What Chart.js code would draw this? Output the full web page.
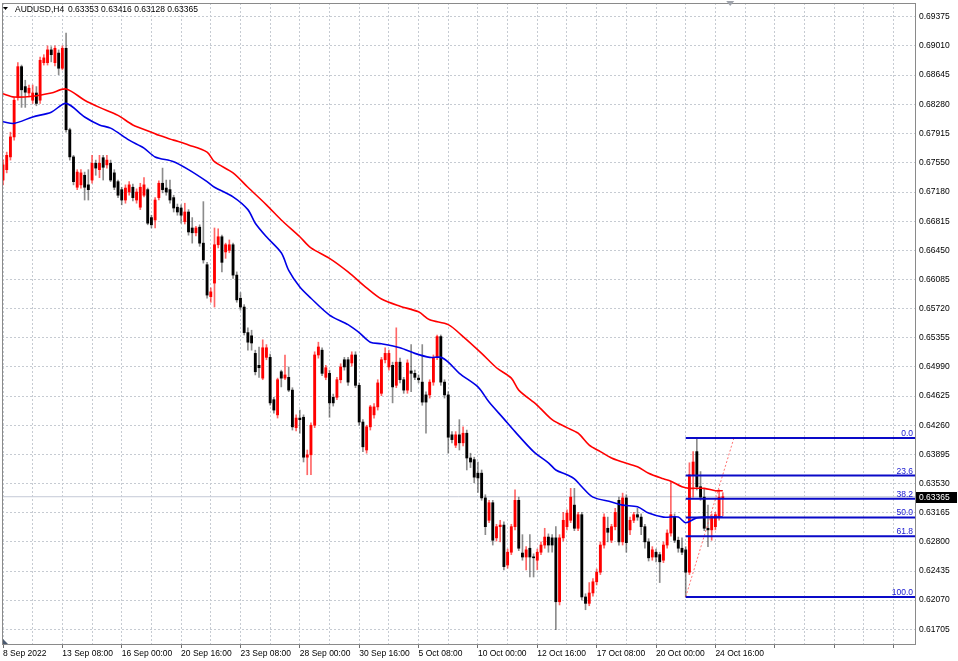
<!DOCTYPE html>
<html>
<head>
<meta charset="utf-8">
<script src="https://cdn.jsdelivr.net/npm/chart.js@4.4.0/dist/chart.umd.min.js"></script>
<style>
  html, body { margin: 0; padding: 0; background: #fff; }
  #wrap { width: 958px; height: 661px; }
</style>
</head>
<body>
<div id="wrap"><canvas id="chart" width="958" height="661"></canvas></div>
<script>
const symbolTitle = "AUDUSD,H4";

// one label every 16 H4 bars, starting at bar 0
const xLabels = ["8 Sep 2022", "13 Sep 08:00", "16 Sep 00:00", "20 Sep 16:00", "23 Sep 08:00",
  "28 Sep 00:00", "30 Sep 16:00", "5 Oct 08:00", "10 Oct 00:00", "12 Oct 16:00",
  "17 Oct 08:00", "20 Oct 00:00", "24 Oct 16:00"];

const yTicks = [0.69375, 0.69010, 0.68645, 0.68280, 0.67915, 0.67550, 0.67180, 0.66815,
  0.66450, 0.66085, 0.65720, 0.65355, 0.64990, 0.64625, 0.64260, 0.63895, 0.63530,
  0.63165, 0.62800, 0.62435, 0.62070, 0.61705];

const opens = [0.6733,0.6746,0.6762,0.6787,0.6837,0.6875,0.6850,0.6842,0.6833,0.6842,
 0.6833,0.6880,0.6880,0.6896,0.6880,0.6892,0.6873,0.6898,0.6796,0.6762,
 0.6724,0.6727,0.6739,0.6727,0.6733,0.6754,0.6746,0.6761,0.6752,0.6754,
 0.6742,0.6731,0.6721,0.6708,0.6718,0.6724,0.6708,0.6699,0.6714,0.6721,
 0.6686,0.6683,0.6711,0.6729,0.6723,0.6721,0.6711,0.6699,0.6698,0.6681,
 0.6693,0.6673,0.6667,0.6674,0.6654,0.6627,0.6587,0.6604,0.6652,0.6662,
 0.6643,0.6645,0.6652,0.6614,0.6585,0.6574,0.6542,0.6538,0.6516,0.6501,
 0.6485,0.6511,0.6511,0.6458,0.6439,0.6493,0.6485,0.6486,0.6470,0.6423,
 0.6435,0.6436,0.6386,0.6389,0.6426,0.6514,0.6520,0.6486,0.6491,0.6461,
 0.6461,0.6483,0.6508,0.6508,0.6504,0.6514,0.6476,0.6430,0.6395,0.6424,
 0.6439,0.6449,0.6466,0.6508,0.6499,0.6501,0.6476,0.6505,0.6483,0.6470,
 0.6494,0.6491,0.6485,0.6480,0.6464,0.6464,0.6480,0.6511,0.6537,0.6480,
 0.6464,0.6414,0.6401,0.6414,0.6404,0.6416,0.6385,0.6383,0.6366,0.6366,
 0.6335,0.6307,0.6329,0.6285,0.6299,0.6301,0.6251,0.6267,0.6299,0.6332,
 0.6266,0.6261,0.6272,0.6261,0.6257,0.6267,0.6276,0.6286,0.6285,0.6285,
 0.6205,0.6285,0.6299,0.6307,0.6326,0.6297,0.6314,0.6211,0.6203,0.6216,
 0.6230,0.6242,0.6276,0.6297,0.6282,0.6299,0.6332,0.6280,0.6335,0.6295,
 0.6307,0.6314,0.6311,0.6299,0.6280,0.6261,0.6267,0.6264,0.6257,0.6276,
 0.6291,0.6311,0.6282,0.6272,0.6270,0.6242,0.6364,0.6393,0.6349,0.6336,
 0.6297,0.6295,0.6299,0.6311,0.63353];

const highs = [0.6758,0.6768,0.6793,0.6837,0.6880,0.6877,0.6858,0.6852,0.6852,0.6850,
 0.6887,0.6890,0.6901,0.6900,0.6901,0.6896,0.6901,0.6917,0.6798,0.6764,
 0.6746,0.6746,0.6743,0.6746,0.6764,0.6758,0.6764,0.6764,0.6764,0.6758,
 0.6746,0.6733,0.6724,0.6727,0.6731,0.6728,0.6722,0.6729,0.6736,0.6723,
 0.6689,0.6711,0.6732,0.6748,0.6733,0.6733,0.6714,0.6703,0.6702,0.6704,
 0.6696,0.6686,0.6675,0.6677,0.6706,0.6630,0.6598,0.6673,0.6672,0.6664,
 0.6654,0.6658,0.6654,0.6618,0.6592,0.6577,0.6548,0.6545,0.6520,0.6524,
 0.6533,0.6527,0.6515,0.6461,0.6485,0.6495,0.6514,0.6499,0.6473,0.6439,
 0.6445,0.6439,0.6395,0.6429,0.6518,0.6530,0.6523,0.6501,0.6495,0.6465,
 0.6486,0.6503,0.6511,0.6511,0.6518,0.6518,0.6479,0.6433,0.6426,0.6451,
 0.6453,0.6483,0.6511,0.6523,0.6520,0.6505,0.6548,0.6510,0.6486,0.6508,
 0.6527,0.6495,0.6489,0.6527,0.6468,0.6483,0.6514,0.6539,0.6539,0.6483,
 0.6468,0.6418,0.6418,0.6433,0.6424,0.6420,0.6391,0.6386,0.6380,0.6370,
 0.6339,0.6332,0.6332,0.6302,0.6307,0.6305,0.6271,0.6302,0.6345,0.6336,
 0.6289,0.6274,0.6289,0.6265,0.6271,0.6280,0.6297,0.6290,0.6289,0.6299,
 0.6289,0.6317,0.6320,0.6347,0.6347,0.6317,0.6317,0.6215,0.6229,0.6234,
 0.6246,0.6280,0.6315,0.6311,0.6302,0.6322,0.6336,0.6341,0.6339,0.6311,
 0.6317,0.6322,0.6315,0.6302,0.6284,0.6274,0.6271,0.6267,0.6280,0.6295,
 0.6355,0.6315,0.6286,0.6285,0.6274,0.6379,0.6393,0.6410,0.6368,0.6347,
 0.6326,0.6315,0.6317,0.6345,0.63416];

const lows = [0.6727,0.6742,0.6758,0.6783,0.6833,0.6824,0.6824,0.6837,0.6829,0.6826,
 0.6829,0.6877,0.6877,0.6881,0.6876,0.6865,0.6871,0.6793,0.6758,0.6727,
 0.6721,0.6723,0.6708,0.6708,0.6729,0.6739,0.6736,0.6733,0.6748,0.6731,
 0.6721,0.6711,0.6702,0.6704,0.6714,0.6707,0.6704,0.6696,0.6712,0.6677,
 0.6673,0.6673,0.6708,0.6717,0.6714,0.6704,0.6693,0.6689,0.6679,0.6678,
 0.6664,0.6654,0.6663,0.6650,0.6629,0.6585,0.6580,0.6574,0.6648,0.6618,
 0.6635,0.6642,0.6610,0.6580,0.6570,0.6539,0.6520,0.6520,0.6489,0.6486,
 0.6483,0.6508,0.6451,0.6441,0.6435,0.6474,0.6483,0.6468,0.6420,0.6419,
 0.6416,0.6380,0.6364,0.6364,0.6423,0.6510,0.6488,0.6483,0.6436,0.6450,
 0.6458,0.6479,0.6495,0.6476,0.6500,0.6473,0.6426,0.6393,0.6391,0.6420,
 0.6435,0.6445,0.6463,0.6504,0.6495,0.6454,0.6473,0.6479,0.6466,0.6466,
 0.6468,0.6483,0.6479,0.6451,0.6416,0.6460,0.6476,0.6508,0.6476,0.6460,
 0.6391,0.6404,0.6398,0.6395,0.6400,0.6370,0.6373,0.6354,0.6342,0.6332,
 0.6289,0.6304,0.6276,0.6281,0.6280,0.6245,0.6247,0.6264,0.6295,0.6269,
 0.6257,0.6245,0.6236,0.6236,0.6245,0.6264,0.6272,0.6267,0.6267,0.6170,
 0.6201,0.6281,0.6295,0.6304,0.6294,0.6294,0.6207,0.6195,0.6200,0.6212,
 0.6226,0.6239,0.6272,0.6280,0.6279,0.6295,0.6276,0.6276,0.6267,0.6289,
 0.6304,0.6307,0.6289,0.6272,0.6256,0.6257,0.6255,0.6229,0.6254,0.6272,
 0.6287,0.6279,0.6267,0.6264,0.6211,0.6239,0.6336,0.6345,0.6332,0.6294,
 0.6274,0.6282,0.6295,0.6307,0.63128];

const closes = [0.6752,0.6764,0.6787,0.6833,0.6875,0.6846,0.6843,0.6848,0.6842,0.6829,
 0.6883,0.6886,0.6896,0.6890,0.6898,0.6873,0.6898,0.6796,0.6762,0.6731,
 0.6743,0.6742,0.6724,0.6721,0.6754,0.6748,0.6754,0.6749,0.6758,0.6733,
 0.6724,0.6714,0.6708,0.6723,0.6727,0.6711,0.6718,0.6724,0.6727,0.6679,
 0.6677,0.6708,0.6729,0.6721,0.6718,0.6708,0.6698,0.6693,0.6689,0.6693,
 0.6668,0.6667,0.6673,0.6654,0.6633,0.6589,0.6593,0.6652,0.6662,0.6630,
 0.6652,0.6652,0.6614,0.6583,0.6574,0.6542,0.6530,0.6529,0.6493,0.6498,
 0.6523,0.6523,0.6454,0.6445,0.6483,0.6485,0.6489,0.6470,0.6424,0.6435,
 0.6433,0.6386,0.6389,0.6426,0.6514,0.6524,0.6491,0.6498,0.6454,0.6454,
 0.6483,0.6499,0.6499,0.6480,0.6514,0.6476,0.6430,0.6399,0.6424,0.6449,
 0.6449,0.6479,0.6508,0.6516,0.6516,0.6474,0.6505,0.6483,0.6470,0.6504,
 0.6491,0.6486,0.6483,0.6455,0.6455,0.6480,0.6511,0.6537,0.6480,0.6464,
 0.6411,0.6408,0.6414,0.6404,0.6416,0.6385,0.6380,0.6361,0.6360,0.6335,
 0.6299,0.6329,0.6282,0.6299,0.6301,0.6249,0.6267,0.6299,0.6332,0.6272,
 0.6261,0.6270,0.6261,0.6260,0.6267,0.6276,0.6286,0.6276,0.6276,0.6205,
 0.6285,0.6307,0.6316,0.6336,0.6297,0.6314,0.6211,0.6203,0.6216,0.6230,
 0.6242,0.6276,0.6311,0.6292,0.6299,0.6317,0.6280,0.6335,0.6279,0.6307,
 0.6314,0.6311,0.6299,0.6280,0.6260,0.6270,0.6261,0.6255,0.6276,0.6291,
 0.6314,0.6282,0.6272,0.6267,0.6242,0.6364,0.6380,0.6349,0.6336,0.6297,
 0.6295,0.6311,0.6314,0.6336,0.63365];

// moving averages at these bar numbers
const redMaAt = [0, 3, 8, 13, 17, 22, 26, 31, 35, 40, 42, 46, 50, 55, 57, 62, 66, 71, 75, 80,
  83, 88, 93, 98, 102, 107, 112, 115, 120, 124, 129, 133, 137, 139, 144, 148, 152, 155, 158, 161,
  164, 167, 171, 174, 178, 180, 183, 185, 189, 192, 194];
const redMa = [0.6841, 0.6837, 0.6838, 0.6842, 0.6847, 0.6833, 0.6824, 0.6814, 0.6802, 0.6793,
  0.6789, 0.6783, 0.6777, 0.6768, 0.6756, 0.6742, 0.6724, 0.6702, 0.6683, 0.6662,
  0.6648, 0.6635, 0.6618, 0.6598, 0.6584, 0.6575, 0.6568, 0.6558, 0.6552, 0.6537,
  0.6516, 0.6498, 0.6485, 0.6470, 0.6451, 0.6433, 0.6423, 0.6416, 0.6401, 0.6393,
  0.6385, 0.6380, 0.6374, 0.6366, 0.6359, 0.6356, 0.6349, 0.6347, 0.6347, 0.6344, 0.6344];

const blueMaAt = [0, 3, 8, 13, 17, 22, 26, 29, 34, 38, 41, 46, 50, 55, 57, 62, 66, 68, 71, 75,
  77, 80, 83, 88, 93, 96, 99, 102, 107, 111, 115, 118, 120, 123, 128, 131, 135, 138, 143, 147,
  149, 152, 154, 156, 159, 164, 167, 171, 174, 178, 182, 184, 187, 191, 194];
const blueMa = [0.6806, 0.6804, 0.6812, 0.6818, 0.6829, 0.6812, 0.6802, 0.6798, 0.6783, 0.6773,
  0.6762, 0.6756, 0.6746, 0.6731, 0.6724, 0.6712, 0.6696, 0.6679, 0.6662, 0.6642,
  0.6620, 0.6599, 0.6585, 0.6564, 0.6552, 0.6542, 0.6530, 0.6528, 0.6523, 0.6516,
  0.6511, 0.6511, 0.6505, 0.6491, 0.6474, 0.6455, 0.6434, 0.6418, 0.6393, 0.6379,
  0.6370, 0.6364, 0.6359, 0.6349, 0.6336, 0.6330, 0.6326, 0.6324, 0.6316, 0.6311,
  0.6311, 0.6304, 0.6310, 0.6311, 0.6311];

// fibonacci retracement anchors (bar, price) and levels in percent
const fibBars = [184, 197];
const fibPrices = [0.6211, 0.6410];
const fibRatios = [0, 23.6, 38.2, 50, 61.8, 100];

const FONT_FAMILY = "'Liberation Sans', Arial, sans-serif";
const FONT_SIZE = 8.5;
const FONT = FONT_SIZE + "px " + FONT_FAMILY;
const X_MIN = -0.27, X_MAX = 245.8;
const last = closes.length - 1;
const barIdx = closes.map((c, i) => i);
const isUp = closes.map((c, i) => c >= opens[i]);
const fibLow = fibPrices[0], fibHigh = fibPrices[1];
const fibLevels = fibRatios.map(r => fibHigh - (fibHigh - fibLow) * r / 100);

const datasets = [
  {
    type: "line",
    data: [{ x: X_MIN, y: closes[last] }, { x: X_MAX, y: closes[last] }],
    borderColor: "#c4cad6", borderWidth: 1, pointRadius: 0, order: 9
  },
  {
    type: "bar",
    data: barIdx.map(i => ({ x: i, y: [lows[i], highs[i]] })),
    backgroundColor: isUp.map(u => u ? "rgba(255,0,0,0.6)" : "rgba(0,0,0,0.45)"),
    barThickness: 1, grouped: false, order: 8
  },
  {
    type: "bar",
    data: barIdx.map(i => ({ x: i, y: [opens[i], closes[i]] })),
    backgroundColor: isUp.map(u => u ? "#ff0000" : "#000000"),
    barThickness: 2.2, minBarLength: 1, grouped: false, order: 7
  },
  {
    type: "line",
    data: redMaAt.map((b, k) => ({ x: b, y: redMa[k] })),
    borderColor: "#ff0000", borderWidth: 1.6, pointRadius: 0, tension: 0.3, order: 5
  },
  {
    type: "line",
    data: blueMaAt.map((b, k) => ({ x: b, y: blueMa[k] })),
    borderColor: "#0000e6", borderWidth: 1.6, pointRadius: 0, tension: 0.3, order: 4
  },
  {
    type: "line",
    data: fibBars.map((b, k) => ({ x: b, y: fibPrices[k] })),
    borderColor: "rgba(255,70,70,0.75)", borderWidth: 1, borderDash: [2, 2], pointRadius: 0, order: 3
  }
].concat(fibLevels.map(v => ({
  type: "line",
  data: [{ x: fibBars[0], y: v }, { x: X_MAX, y: v }],
  borderColor: "#0a0ac8", borderWidth: 2, pointRadius: 0, order: 2
})));

const overlay = {
  id: "overlay",
  afterDraw(chart) {
    const { ctx, chartArea: a, scales: { x, y } } = chart;
    ctx.save();

    // frame
    ctx.strokeStyle = "#8a8a8a";
    ctx.lineWidth = 1;
    ctx.strokeRect(a.left + 0.5, a.top + 0.5, a.right - a.left, a.bottom - a.top);

    ctx.font = FONT;

    // fibo level captions
    ctx.fillStyle = "#1818d0";
    ctx.textAlign = "right";
    ctx.textBaseline = "alphabetic";
    fibLevels.forEach((v, k) => {
      ctx.fillText(fibRatios[k].toFixed(1), a.right - 2, y.getPixelForValue(v) - 2);
    });

    // current price box
    const py = Math.round(y.getPixelForValue(closes[last]));
    ctx.fillStyle = "#000";
    ctx.fillRect(a.right + 1, py - 5, 41, 11);
    ctx.fillStyle = "#fff";
    ctx.textAlign = "left";
    ctx.textBaseline = "middle";
    ctx.fillText(closes[last].toFixed(5), a.right + 4, py + 0.5);

    // title line
    ctx.fillStyle = "#000";
    ctx.textBaseline = "alphabetic";
    ctx.fillText(symbolTitle, 15, 12);
    const ohlc = [opens[last], highs[last], lows[last], closes[last]].map(v => v.toFixed(5)).join(" ");
    ctx.fillText(ohlc, 68, 12);
    ctx.beginPath();
    ctx.moveTo(3, 7); ctx.lineTo(8, 7); ctx.lineTo(5.5, 10);
    ctx.closePath(); ctx.fill();

    // chart shift marker
    const sx = x.getPixelForValue(last + 2);
    ctx.fillStyle = "#a0a4ac";
    ctx.beginPath();
    ctx.moveTo(sx - 4, 1); ctx.lineTo(sx + 4, 1); ctx.lineTo(sx, 6);
    ctx.closePath(); ctx.fill();

    // corner marker
    ctx.fillStyle = "#4a5a70";
    ctx.beginPath();
    ctx.moveTo(a.left + 1, a.bottom - 5); ctx.lineTo(a.left + 1, a.bottom); ctx.lineTo(a.left + 6, a.bottom);
    ctx.closePath(); ctx.fill();

    ctx.restore();
  }
};

new Chart(document.getElementById("chart"), {
  type: "bar",
  data: { datasets },
  options: {
    responsive: false,
    animation: false,
    devicePixelRatio: 1,
    events: [],
    layout: { padding: { left: 2, top: 3, right: 0, bottom: 0 } },
    plugins: { legend: { display: false }, tooltip: { enabled: false } },
    scales: {
      x: {
        type: "linear",
        min: X_MIN,
        max: X_MAX,
        offset: false,
        afterBuildTicks: s => {
          const t = [];
          for (let v = 0; v <= X_MAX; v += 8) t.push({ value: v });
          s.ticks = t;
        },
        afterFit: s => { s.height = 17; s.paddingLeft = 0; s.paddingRight = 0; },
        grid: {
          offset: false,
          color: "#c6cbd2",
          drawTicks: true,
          tickLength: 4,
          tickColor: c => (c.tick && c.tick.value % 16 === 0) ? "#707070" : "rgba(0,0,0,0)"
        },
        border: { display: false, dash: [2, 2] },
        ticks: {
          autoSkip: false,
          maxRotation: 0,
          align: "start",
          padding: 1,
          color: "#000",
          font: { family: FONT_FAMILY, size: FONT_SIZE },
          callback: v => (v % 16 === 0 && xLabels[v / 16]) ? xLabels[v / 16] : ""
        }
      },
      y: {
        position: "right",
        min: 0.61521,
        max: 0.69547,
        beginAtZero: false,
        afterBuildTicks: s => { s.ticks = yTicks.map(v => ({ value: v })); },
        afterFit: s => { s.width = 43; s.paddingTop = 0; s.paddingBottom = 0; },
        grid: { color: "#c6cbd2", drawTicks: false },
        border: { display: false, dash: [2, 2] },
        ticks: {
          padding: 4,
          color: "#000",
          font: { family: FONT_FAMILY, size: FONT_SIZE },
          callback: v => v.toFixed(5)
        }
      }
    }
  },
  plugins: [overlay]
});
</script>
</body>
</html>
